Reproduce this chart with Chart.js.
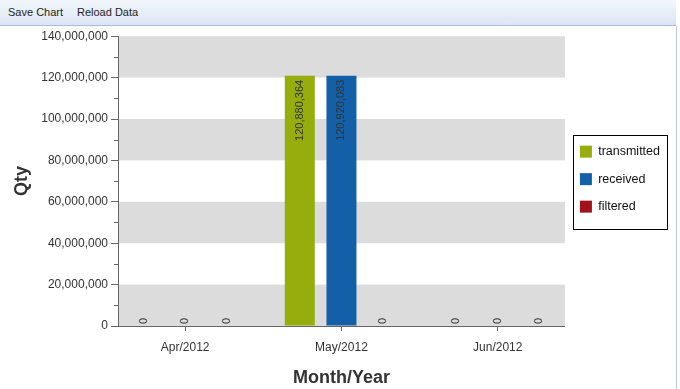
<!DOCTYPE html>
<html>
<head>
<meta charset="utf-8">
<script src="https://cdn.jsdelivr.net/npm/chart.js@4"></script>
<style>
  html, body { margin: 0; padding: 0; background: #fff; width: 680px; height: 389px; overflow: hidden; }
  #toolbar { position: absolute; left: 0; top: 0; width: 676px; height: 25px; border-bottom: 1px solid #a9bfd9;
    background: linear-gradient(#f3f7fc, #dbe5f2); font: 11px "Liberation Sans", Arial, sans-serif; color: #1e1e1e; }
  #toolbar span { position: absolute; top: 6px; }
  #frame { position: absolute; left: 0; top: 26px; width: 676px; height: 363px; border-right: 1px solid #b7cbe3; }
</style>
</head>
<body>
<div id="toolbar"><span style="left:8px">Save Chart</span><span style="left:77px">Reload Data</span></div>
<div id="frame"><canvas id="chart"></canvas></div>
<script>
const months = ['Apr/2012', 'May/2012', 'Jun/2012'];
const transmitted = [0, 120880364, 0];
const received = [0, 120920083, 0];
const filtered = [0, 0, 0];
const yTicks = [0, 20000000, 40000000, 60000000, 80000000, 100000000, 120000000, 140000000];

const fontFamily = '"Liberation Sans", Arial, sans-serif';
Chart.defaults.font.family = fontFamily;

const toPoints = arr => arr.map((v, i) => ({ x: i, y: v }));

// grey / white bands behind the bars, minor ticks and legend frame
const bandsPlugin = {
  id: 'bands',
  beforeDraw(chart) {
    const { ctx, chartArea: a, scales: { y } } = chart;
    ctx.save();
    ctx.fillStyle = '#dcdcdc';
    for (let i = 0; i < yTicks.length - 1; i += 2) {
      const top = y.getPixelForValue(yTicks[i + 1]);
      const bottom = y.getPixelForValue(yTicks[i]);
      ctx.fillRect(a.left, top, a.right - a.left, bottom - top);
    }
    ctx.restore();
  },
  afterDraw(chart) {
    const { ctx, chartArea: a, scales: { y } } = chart;
    ctx.save();
    ctx.strokeStyle = '#666';
    ctx.lineWidth = 1;
    for (let i = 0; i < yTicks.length - 1; i++) {
      const py = Math.round(y.getPixelForValue((yTicks[i] + yTicks[i + 1]) / 2)) + 0.5;
      ctx.beginPath();
      ctx.moveTo(a.left - 4, py);
      ctx.lineTo(a.left, py);
      ctx.stroke();
    }
    const lg = chart.legend;
    if (lg && lg.legendHitBoxes.length) {
      const hb = lg.legendHitBoxes;
      const x0 = hb[0].left - 7, y0 = hb[0].top - 10;
      const last = hb[hb.length - 1];
      ctx.strokeStyle = '#000';
      ctx.strokeRect(Math.round(x0) + 0.5, Math.round(y0) + 0.5, 94, Math.round(last.top + last.height + 16 - y0));
    }
    ctx.restore();
  }
};

// value labels, rotated
const labelPlugin = {
  id: 'barLabels',
  afterDatasetsDraw(chart) {
    const { ctx } = chart;
    ctx.save();
    ctx.font = '11px ' + fontFamily;
    ctx.fillStyle = '#333';
    ctx.textBaseline = 'middle';
    chart.data.datasets.forEach((ds, di) => {
      chart.getDatasetMeta(di).data.forEach((bar, i) => {
        const v = ds.data[i].y;
        const txt = v.toLocaleString('en-US');
        ctx.save();
        if (bar.base - bar.y > 20) {
          ctx.translate(bar.x, bar.y + 4);
          ctx.rotate(-Math.PI / 2);
          ctx.textAlign = 'right';
        } else {
          ctx.translate(bar.x, bar.y - 2);
          ctx.rotate(-Math.PI / 2);
          ctx.textAlign = 'left';
        }
        ctx.fillText(txt, 0, 0);
        ctx.restore();
      });
    });
    ctx.restore();
  }
};

new Chart(document.getElementById('chart'), {
  type: 'bar',
  data: {
    datasets: [
      { label: 'transmitted', data: toPoints(transmitted), backgroundColor: '#96ad0b' },
      { label: 'received', data: toPoints(received), backgroundColor: '#1460a8' },
      { label: 'filtered', data: toPoints(filtered), backgroundColor: '#a3111e' }
    ]
  },
  options: {
    responsive: true,
    maintainAspectRatio: false,
    animation: false,
    categoryPercentage: 0.8,
    barPercentage: 0.72,
    layout: { padding: { top: 10, right: 6, bottom: 0, left: 0 } },
    plugins: {
      tooltip: { enabled: false },
      legend: {
        position: 'right',
        align: 'start',
        title: { display: true, text: '', padding: { top: 80, bottom: 0 } },
        labels: { boxWidth: 12, boxHeight: 12, padding: 15, color: '#111', font: { size: 12.5 } }
      }
    },
    scales: {
      x: {
        type: 'linear',
        min: -0.43,
        max: 2.43,
        offset: false,
        grid: { offset: false, drawOnChartArea: false, tickLength: 5, color: '#666' },
        border: { color: '#666' },
        afterBuildTicks(s) { s.ticks = months.map((m, i) => ({ value: i })); },
        ticks: { color: '#333', font: { size: 12 }, padding: 9, maxRotation: 0, callback: v => months[v] ?? '' },
        title: { display: true, text: 'Month/Year', color: '#333', font: { size: 18, weight: 'bold' }, padding: { top: 0, bottom: 0 } },
        afterFit(s) { s.height = 63; }
      },
      y: {
        min: 0,
        max: 140000000,
        afterBuildTicks(s) { s.ticks = yTicks.map(v => ({ value: v })); },
        grid: { drawOnChartArea: false, tickLength: 7, color: '#666' },
        border: { color: '#666' },
        ticks: { color: '#333', font: { size: 12 }, padding: 3, callback: v => v.toLocaleString('en-US') },
        title: { display: true, text: 'Qty', color: '#333', font: { size: 18, weight: 'bold' }, padding: { top: 11, bottom: 0 } },
        afterFit(s) { s.width = 118; }
      }
    }
  },
  plugins: [bandsPlugin, labelPlugin]
});
</script>
</body>
</html>
